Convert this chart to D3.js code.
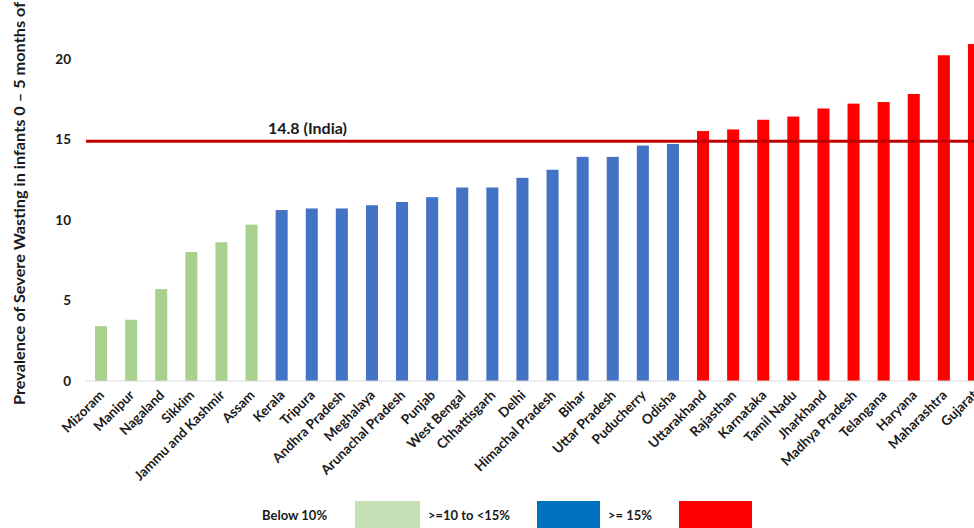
<!DOCTYPE html>
<html lang="en">
<head>
<meta charset="UTF-8">
<title>Severe wasting in infants</title>
<script src="https://cdn.jsdelivr.net/npm/d3@7"></script>
<style>
  body { margin: 0; background: #fff; }
  text { font-family: Lato, "Open Sans", sans-serif; font-weight: bold; fill: #1a1a1a; }
</style>
</head>
<body>
<svg width="974" height="528"></svg>
<script>
// data
var states = ['Mizoram','Manipur','Nagaland','Sikkim','Jammu and Kashmir','Assam','Kerala','Tripura',
  'Andhra Pradesh','Meghalaya','Arunachal Pradesh','Punjab','West Bengal','Chhattisgarh','Delhi',
  'Himachal Pradesh','Bihar','Uttar Pradesh','Puducherry','Odisha','Uttarakhand','Rajasthan',
  'Karnataka','Tamil Nadu','Jharkhand','Madhya Pradesh','Telangana','Haryana','Maharashtra','Gujarat'];
var values = [3.4,3.8,5.7,8.0,8.6,9.7,10.6,10.7,10.7,10.9,11.1,11.4,12.0,12.0,12.6,13.1,13.9,13.9,14.6,14.7,
  15.5,15.6,16.2,16.4,16.9,17.2,17.3,17.8,20.2,20.9];
var yTicks = [0,5,10,15,20];
var indiaValue = 14.8;
var legendLabels = ['Below 10%','>=10 to <15%','>= 15%'];
var legendColors = ['#c5e0b4','#0070c0','#ff0000'];

var svg = d3.select('svg');

var x = d3.scaleBand()
  .domain(states)
  .range([86, 989])
  .paddingInner(0.6)
  .paddingOuter(0.3);

var y = d3.scaleLinear()
  .domain([0, 20])
  .range([381, 58.5]);

function barColor(v) {
  if (v < 10) return '#a9d18e';
  if (v < 15) return '#4472c4';
  return '#ff0000';
}

// bars
svg.append('g').selectAll('rect')
  .data(values)
  .enter()
  .append('rect')
  .attr('x', function(d, i) { return x(states[i]); })
  .attr('y', function(d) { return y(d); })
  .attr('width', x.bandwidth())
  .attr('height', function(d) { return y(0) - y(d); })
  .attr('fill', function(d) { return barColor(d); });

// baseline
svg.append('line')
  .attr('x1', 86).attr('x2', 989)
  .attr('y1', y(0)).attr('y2', y(0))
  .attr('stroke', '#d9d9d9').attr('stroke-width', 1);

// y tick labels
svg.append('g').selectAll('text')
  .data(yTicks)
  .enter()
  .append('text')
  .attr('x', 71)
  .attr('y', function(d) { return y(d) + 5; })
  .attr('text-anchor', 'end')
  .style('font-size', '13.5px')
  .text(function(d) { return d; });

// x labels
svg.append('g').selectAll('text')
  .data(states)
  .enter()
  .append('text')
  .attr('text-anchor', 'end')
  .attr('transform', function(d) {
    var cx = x(d) + x.bandwidth() / 2 + 4;
    return 'translate(' + cx + ',' + 396 + ') rotate(-45)';
  })
  .style('font-size', '13.5px')
  .text(function(d) { return d; });

// India line (drawn a touch high so the bars just under it stay visible, as in the source)
svg.append('line')
  .attr('x1', 86).attr('x2', 974)
  .attr('y1', y(indiaValue) - 1).attr('y2', y(indiaValue) - 1)
  .attr('stroke', '#c00000').attr('stroke-width', 3);

svg.append('text')
  .attr('x', 268)
  .attr('y', 134)
  .style('font-size', '16px')
  .text(indiaValue + ' (India)');

// y axis title (cut off at the top, as in the source)
svg.append('text')
  .attr('transform', 'translate(25,405) rotate(-90)')
  .attr('text-anchor', 'start')
  .attr('textLength', 403)
  .attr('lengthAdjust', 'spacingAndGlyphs')
  .style('font-size', '15.5px')
  .text('Prevalence of Severe Wasting in infants 0 \u2013 5 months of');

// legend
var legendTextX = [262, 428, 608];
var legendRectX = [355, 537, 679];
var legendRectW = [65, 63, 73];

svg.append('g').selectAll('text')
  .data(legendLabels)
  .enter()
  .append('text')
  .attr('x', function(d, i) { return legendTextX[i]; })
  .attr('y', 520)
  .style('font-size', '13px')
  .text(function(d) { return d; });

svg.append('g').selectAll('rect')
  .data(legendColors)
  .enter()
  .append('rect')
  .attr('x', function(d, i) { return legendRectX[i]; })
  .attr('y', 501)
  .attr('width', function(d, i) { return legendRectW[i]; })
  .attr('height', 27)
  .attr('fill', function(d) { return d; });
</script>
</body>
</html>
